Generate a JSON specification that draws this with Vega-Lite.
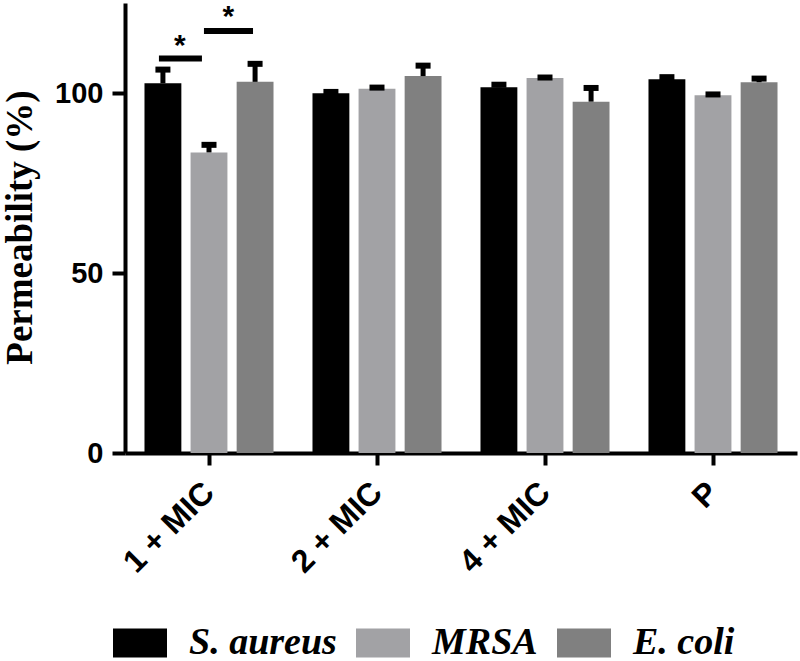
{
  "$schema": "https://vega.github.io/schema/vega-lite/v6.json",
  "autosize": {"type": "none"},
  "padding": {"left": 125, "top": 3, "right": 3, "bottom": 208},
  "width": 672,
  "height": 450,
  "background": "white",
  "config": {
    "view": {"stroke": null},
    "axis": {"domainColor": "black", "domainWidth": 4, "tickColor": "black", "tickWidth": 4, "grid": false, "labelColor": "black", "titleColor": "black"}
  },
  "datasets": {
    "bars": [
      {"group": "1 + MIC", "bacteria": "S. aureus", "value": 102.7, "upper": 106.5},
      {"group": "1 + MIC", "bacteria": "MRSA", "value": 83.5, "upper": 85.6},
      {"group": "1 + MIC", "bacteria": "E. coli", "value": 103.1, "upper": 108.1},
      {"group": "2 + MIC", "bacteria": "S. aureus", "value": 99.9, "upper": 100.3},
      {"group": "2 + MIC", "bacteria": "MRSA", "value": 101.2, "upper": 101.5},
      {"group": "2 + MIC", "bacteria": "E. coli", "value": 104.7, "upper": 107.6},
      {"group": "4 + MIC", "bacteria": "S. aureus", "value": 101.6, "upper": 102.3},
      {"group": "4 + MIC", "bacteria": "MRSA", "value": 104.2, "upper": 104.3},
      {"group": "4 + MIC", "bacteria": "E. coli", "value": 97.6, "upper": 101.4},
      {"group": "P", "bacteria": "S. aureus", "value": 103.8, "upper": 104.4},
      {"group": "P", "bacteria": "MRSA", "value": 99.4, "upper": 99.6},
      {"group": "P", "bacteria": "E. coli", "value": 103.0, "upper": 104.0}
    ],
    "sig": [
      {"start": 0.202, "end": 0.458, "level": 109.6, "star": 0.327, "starLevel": 110.5, "label": "*"},
      {"start": 0.470, "end": 0.762, "level": 117.2, "star": 0.615, "starLevel": 118.6, "label": "*"}
    ]
  },
  "layer": [
    {
      "data": {"name": "bars"},
      "layer": [
        {
          "mark": {"type": "bar"},
          "encoding": {
            "x": {"field": "group", "type": "nominal", "sort": ["1 + MIC", "2 + MIC", "4 + MIC", "P"],
              "scale": {"paddingInner": 0.232, "paddingOuter": 0.116},
              "axis": {"title": null, "labelAngle": -45, "labelAlign": "right", "labelBaseline": "middle", "labelFont": "Liberation Sans", "labelFontWeight": "bold", "labelFontSize": 32, "tickSize": 12, "labelPadding": 22}},
            "xOffset": {"field": "bacteria", "type": "nominal", "sort": ["S. aureus", "MRSA", "E. coli"], "scale": {"paddingInner": 0.2, "paddingOuter": 0}},
            "y": {"field": "value", "type": "quantitative", "scale": {"domain": [0, 125], "nice": false},
              "axis": {"values": [0, 50, 100], "title": "Permeability (%)", "titleFont": "Liberation Serif", "titleFontWeight": "bold", "titleFontSize": 37,
                "titleAngle": -90, "titleX": -94, "titleY": 224, "titleBaseline": "alphabetic", "titleAlign": "center",
                "labelFont": "Liberation Sans", "labelFontWeight": "bold", "labelFontSize": 29, "tickSize": 13, "labelPadding": 9}},
            "color": {"field": "bacteria", "type": "nominal", "sort": ["S. aureus", "MRSA", "E. coli"],
              "scale": {"domain": ["S. aureus", "MRSA", "E. coli"], "range": ["#000000", "#a2a2a5", "#808080"]},
              "legend": {"title": null, "orient": "none", "legendX": -12, "legendY": 613, "direction": "horizontal",
                "symbolType": "M-1,-0.537H1V0.537H-1Z", "symbolSize": 2916, "symbolStrokeWidth": 0, "symbolOpacity": 1,
                "labelFont": "Liberation Serif", "labelFontStyle": "italic", "labelFontWeight": "bold", "labelFontSize": 38, "labelColor": "black",
                "labelOffset": 22, "columnPadding": 19, "labelLimit": 300}}
          }
        },
        {
          "mark": {"type": "rule", "color": "black", "strokeWidth": 5},
          "encoding": {
            "x": {"field": "group", "type": "nominal", "sort": ["1 + MIC", "2 + MIC", "4 + MIC", "P"]},
            "xOffset": {"field": "bacteria", "type": "nominal", "sort": ["S. aureus", "MRSA", "E. coli"]},
            "y": {"field": "value", "type": "quantitative"},
            "y2": {"field": "upper"}
          }
        },
        {
          "mark": {"type": "tick", "color": "black", "thickness": 6, "size": 15, "opacity": 1},
          "encoding": {
            "x": {"field": "group", "type": "nominal", "sort": ["1 + MIC", "2 + MIC", "4 + MIC", "P"]},
            "xOffset": {"field": "bacteria", "type": "nominal", "sort": ["S. aureus", "MRSA", "E. coli"]},
            "y": {"field": "upper", "type": "quantitative"}
          }
        }
      ]
    },
    {
      "data": {"name": "sig"},
      "layer": [
        {
          "mark": {"type": "rule", "color": "black", "strokeWidth": 6},
          "encoding": {
            "x": {"field": "start", "type": "quantitative", "scale": {"domain": [0, 4], "nice": false, "zero": false}, "axis": null},
            "x2": {"field": "end"},
            "y": {"field": "level", "type": "quantitative"}
          }
        },
        {
          "mark": {"type": "text", "color": "black", "font": "Liberation Sans", "fontWeight": "bold", "fontSize": 30, "baseline": "alphabetic", "align": "center"},
          "encoding": {
            "x": {"field": "star", "type": "quantitative", "scale": {"domain": [0, 4], "nice": false, "zero": false}, "axis": null},
            "y": {"field": "starLevel", "type": "quantitative"},
            "text": {"field": "label"}
          }
        }
      ]
    }
  ],
  "resolve": {"scale": {"x": "independent"}}
}
